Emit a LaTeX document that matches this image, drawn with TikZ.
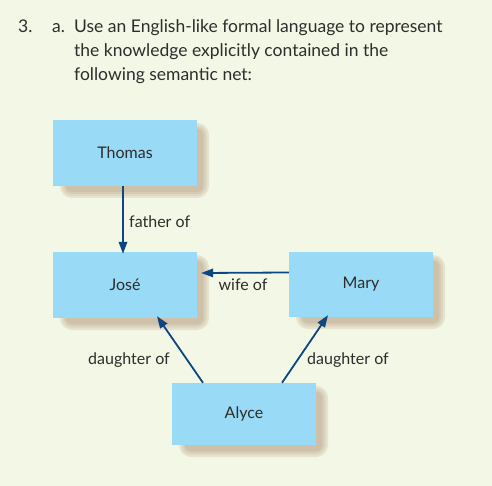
\documentclass[tikz,border=0pt]{standalone}
\usepackage{fontspec}
\setmainfont{Lato}
\usetikzlibrary{arrows.meta}
\definecolor{bgc}{RGB}{243,247,229}
\definecolor{boxc}{RGB}{153,218,247}
\definecolor{sha}{RGB}{230,228,206}
\definecolor{shb}{RGB}{222,216,194}
\definecolor{shc}{RGB}{214,204,181}
\definecolor{shd}{RGB}{206,193,169}
\definecolor{arrc}{RGB}{14,70,130}
\definecolor{txtc}{RGB}{45,45,45}
\tikzset{
  ent/.style={fill=boxc, text=txtc, minimum width=144pt, inner sep=0pt, font=\fontsize{16}{18}\selectfont},
  lab/.style={text=txtc, inner sep=0pt, font=\fontsize{16}{18}\selectfont},
  ttl/.style={text=txtc, inner sep=0pt, anchor=base west, font=\fontsize{17.5}{20}\selectfont},
  rel/.style={draw=arrc, line width=1.8pt, -{Triangle[width=8.5pt,length=12pt]}},
  s1/.style={fill=sha, rounded corners=12pt},
  s2/.style={fill=shb, rounded corners=10pt},
  s3/.style={fill=shc, rounded corners=8pt},
  s4/.style={fill=shd, rounded corners=6pt}
}
\begin{document}
\begin{tikzpicture}[x=1pt,y=-1pt]
\fill[bgc] (0,0) rectangle (492,486);
\useasboundingbox (0,0) rectangle (492,486);
% shadows
\path[s1] (60,123) rectangle (209,198);
\path[s2] (62,125) rectangle (207,196);
\path[s3] (64,127) rectangle (205,194);
\path[s4] (66,129) rectangle (203,192);
\path[s1] (60,255) rectangle (209,330);
\path[s2] (62,257) rectangle (207,328);
\path[s3] (64,259) rectangle (205,326);
\path[s4] (66,261) rectangle (203,324);
\path[s1] (296,255) rectangle (445,329);
\path[s2] (298,257) rectangle (443,327);
\path[s3] (300,259) rectangle (441,325);
\path[s4] (302,261) rectangle (439,323);
\path[s1] (179,386) rectangle (328,457);
\path[s2] (181,388) rectangle (326,455);
\path[s3] (183,390) rectangle (324,453);
\path[s4] (185,392) rectangle (322,451);
\node[ttl] (n3) at (18,33) {3.};
\node[ttl] (na) at (52,33) {a.};
\node[ttl] (l1) at (74,33) {Use an English-like formal language to represent};
\node[ttl] (l2) at (74,57) {the knowledge explicitly contained in the};
\node[ttl] (l3) at (74,81) {following semantic net:};
\node[ent, minimum height=66pt] (thomas) at (125,153) {Thomas};
\node[ent, minimum height=66pt] (jose) at (125,285) {José};
\node[ent, minimum height=65pt] (mary) at (361,284.5) {Mary};
\node[ent, minimum height=62pt] (alyce) at (244,414) {Alyce};
\draw[rel] ([xshift=-2]thomas.south) -- ([xshift=-2,yshift=-2]jose.north);
\draw[rel] ([yshift=12]mary.west) -- ([xshift=4,yshift=12]jose.east);
\draw[rel] ([xshift=-41]alyce.north) -- ([xshift=32,yshift=2]jose.south);
\draw[rel] ([xshift=38]alyce.north) -- ([xshift=-33,yshift=2]mary.south);
\node[lab, anchor=west] (f) at (129,222) {father of};
\node[lab] (w) at (243,285) {wife of};
\node[lab] (d1) at (129,360) {daughter of};
\node[lab] (d2) at (348,360) {daughter of};
\end{tikzpicture}
\end{document}
